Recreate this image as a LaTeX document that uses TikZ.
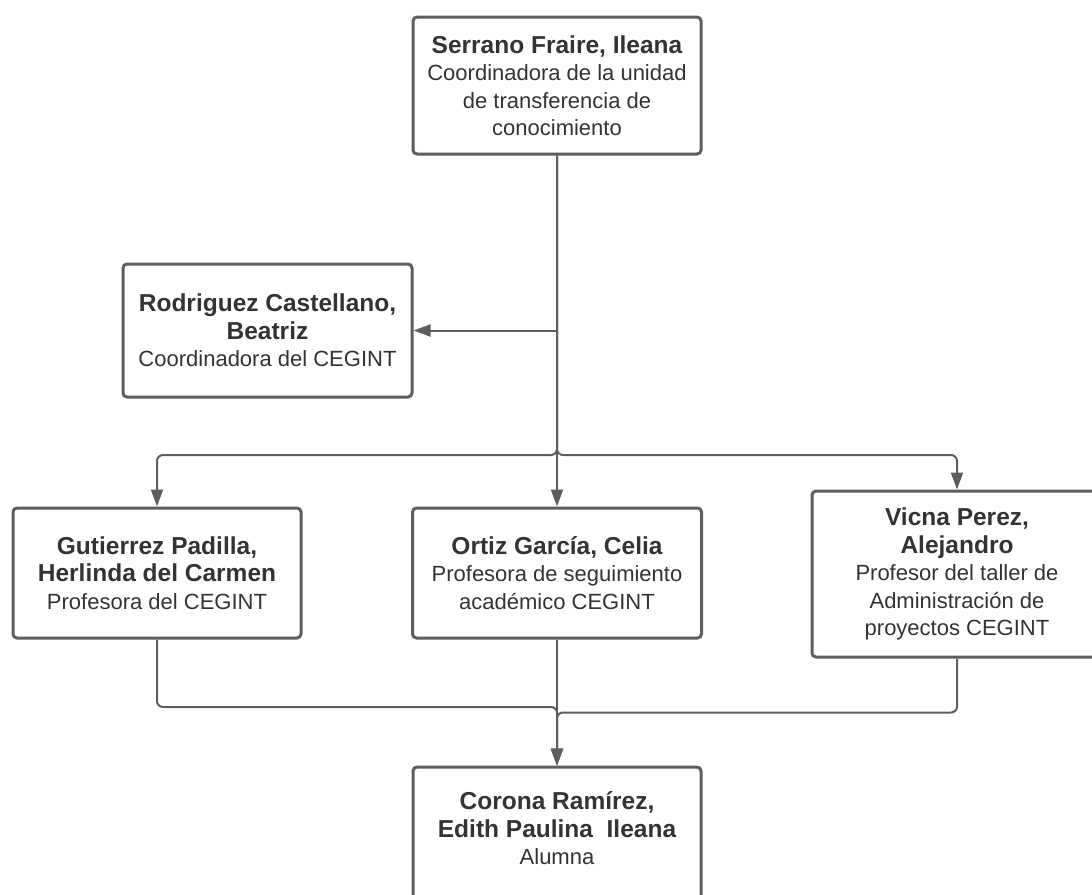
\documentclass[tikz,border=0pt]{standalone}
\usepackage{fontspec}
\setmainfont{Liberation Sans}
\usetikzlibrary{arrows.meta}
\definecolor{linegray}{HTML}{5E5E5E}
\definecolor{textgray}{HTML}{333333}
\newcommand{\pname}[1]{{\fontsize{24.5}{27.5}\selectfont\bfseries #1}}
\begin{document}
\begin{tikzpicture}
	[
	x = {(1pt, 0pt)},
	y = {(0pt, -1pt)},
	person/.style = {draw = linegray, line width = 3pt, rounded corners = 4pt, fill = white, align = center, text = textgray, inner sep = 0pt, font = \fontsize{22}{27.5}\selectfont},
	link/.style = {draw = linegray, line width = 2pt},
	arrowlink/.style = {link, -{Triangle[length = 17pt, width = 12pt]}},
	branch/.style = {arrowlink, rounded corners = 6pt}]
	
	\useasboundingbox (0, 0) rectangle (1092, 894);
	
	%% People
	
	\node[person, minimum width = 288pt, minimum height = 137pt] (serrano) at (557, 85.5)
		{\pname{Serrano Fraire, Ileana}\\ Coordinadora de la unidad\\ de transferencia de\\ conocimiento};
	\node[person, minimum width = 289pt, minimum height = 133pt] (rodriguez) at (267.5, 330.5)
		{\pname{Rodriguez Castellano,}\\ \pname{Beatriz}\\ Coordinadora del CEGINT};
	\node[person, minimum width = 288pt, minimum height = 130pt] (gutierrez) at (157, 573)
		{\pname{Gutierrez Padilla,}\\ \pname{Herlinda del Carmen}\\ Profesora del CEGINT};
	\node[person, minimum width = 289pt, minimum height = 130pt] (ortiz) at (557, 573)
		{\pname{Ortiz García, Celia}\\ Profesora de seguimiento\\ académico CEGINT};
	\node[person, minimum width = 290pt, minimum height = 166pt] (vicna) at (957, 574)
		{\pname{Vicna Perez,}\\ \pname{Alejandro}\\ Profesor del taller de\\ Administración de\\ proyectos CEGINT};
	\node[person, minimum width = 288pt, minimum height = 150pt] (corona) at (557, 842)
		{\pname{Corona Ramírez,}\\ \pname{Edith Paulina\ \ Ileana}\\ Alumna\\ \mbox{}};
	
	%% Junctions
	
	\coordinate (rodjoin) at (serrano.south |- rodriguez.east);
	\coordinate (split) at (557, 455);
	\coordinate (leftmerge) at (557, 707);
	\coordinate (rightmerge) at (557, 712.5);
	
	%% Connectors
	
	\draw[arrowlink] (serrano.south) -- (ortiz.north);
	\draw[arrowlink] (rodjoin) -- (rodriguez.east);
	\draw[branch] (serrano.south) -- (split) -| (gutierrez.north);
	\draw[branch] (serrano.south) -- (split) -| (vicna.north);
	
	\draw[arrowlink] (ortiz.south) -- (corona.north);
	\draw[branch] (gutierrez.south) |- (leftmerge) -- (corona.north);
	\draw[branch] (vicna.south) |- (rightmerge) -- (corona.north);
\end{tikzpicture}
\end{document}
